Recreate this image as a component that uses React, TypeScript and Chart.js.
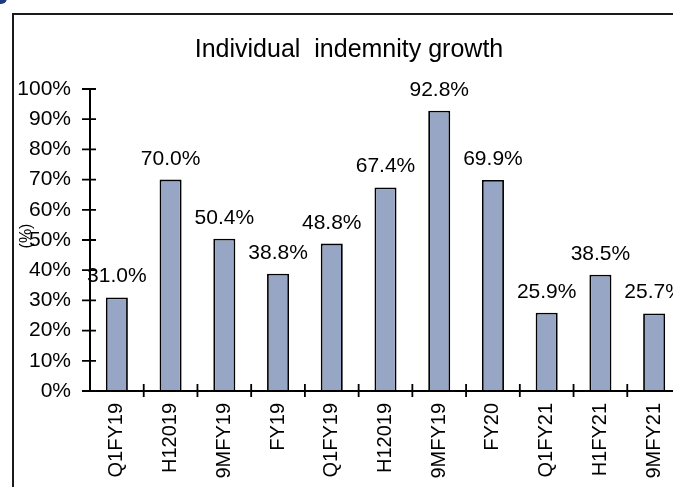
import React, { useEffect, useRef } from "react";
import { Chart, registerables } from "chart.js";

Chart.register(...registerables);

const categories = ["Q1FY19", "H12019", "9MFY19", "FY19", "Q1FY19", "H12019", "9MFY19", "FY20", "Q1FY21", "H1FY21", "9MFY21"];
const growthValues = [31.0, 70.0, 50.4, 38.8, 48.8, 67.4, 92.8, 69.9, 25.9, 38.5, 25.7];
const yTickValues = [0, 10, 20, 30, 40, 50, 60, 70, 80, 90, 100];
const chartTitle = "Individual  indemnity growth";
const yAxisTitle = "(%)";

const FONT = "'Liberation Sans', Arial, Helvetica, sans-serif";

const decorPlugin = {
  id: "decor",
  beforeDraw(chart: any) {
    const ctx = chart.ctx;
    ctx.save();
    ctx.fillStyle = "#ffffff";
    ctx.fillRect(0, 0, chart.width, chart.height);
    ctx.fillStyle = "#1f3b7d";
    ctx.beginPath();
    ctx.arc(1, -2, 6, 0, Math.PI * 2);
    ctx.fill();
    ctx.strokeStyle = "#1a1a1a";
    ctx.lineWidth = 2;
    ctx.beginPath();
    ctx.moveTo(13, chart.height + 5);
    ctx.lineTo(13, 14);
    ctx.lineTo(chart.width + 5, 14);
    ctx.stroke();
    ctx.restore();
  },
  afterDraw(chart: any) {
    const ctx = chart.ctx;
    const xs = chart.scales.x;
    const ys = chart.scales.y;
    const area = chart.chartArea;
    ctx.save();
    ctx.strokeStyle = "#000000";
    ctx.lineWidth = 2;
    ctx.beginPath();
    ctx.moveTo(area.left, ys.getPixelForValue(100));
    ctx.lineTo(area.left, ys.getPixelForValue(0));
    ctx.lineTo(chart.width + 5, ys.getPixelForValue(0));
    ctx.stroke();
    ctx.lineWidth = 1.8;
    ctx.beginPath();
    yTickValues.forEach((v) => {
      const y = ys.getPixelForValue(v);
      ctx.moveTo(area.left - 8, y);
      ctx.lineTo(area.left + 6, y);
    });
    const y0 = ys.getPixelForValue(0);
    for (let i = 1; i <= categories.length; i++) {
      const x = xs.getPixelForValue(i - 0.5);
      ctx.moveTo(x, y0 - 7);
      ctx.lineTo(x, y0 + 6);
    }
    ctx.stroke();
    ctx.fillStyle = "#000000";
    ctx.font = `21px ${FONT}`;
    ctx.textAlign = "center";
    ctx.textBaseline = "alphabetic";
    const meta = chart.getDatasetMeta(0);
    meta.data.forEach((bar: any, i: number) => {
      ctx.fillText(growthValues[i].toFixed(1) + "%", bar.x, bar.y - 15);
    });
    ctx.font = `25px ${FONT}`;
    ctx.fillText(chartTitle, 349, 57);
    ctx.save();
    ctx.translate(27, 236);
    ctx.rotate(-Math.PI / 2);
    ctx.font = `16px ${FONT}`;
    ctx.textBaseline = "middle";
    ctx.fillText(yAxisTitle, 0, 0);
    ctx.restore();
    ctx.restore();
  },
};

export default function App() {
  const canvasRef = useRef<HTMLCanvasElement | null>(null);

  useEffect(() => {
    const canvas = canvasRef.current;
    if (!canvas) return;
    const chart = new Chart(canvas, {
      type: "bar",
      data: {
        labels: categories,
        datasets: [
          {
            data: growthValues,
            backgroundColor: "#97a6c4",
            borderColor: "#000000",
            borderWidth: 1.8,
            barPercentage: 0.41,
            categoryPercentage: 1,
          },
        ],
      },
      options: {
        responsive: false,
        animation: false,
        devicePixelRatio: 1,
        layout: { padding: { top: 89, left: 0, right: 19, bottom: 0 } },
        plugins: {
          legend: { display: false },
          title: { display: false },
          tooltip: { enabled: false },
        },
        scales: {
          x: {
            grid: { display: false, drawTicks: true, tickLength: 8 },
            border: { display: false },
            ticks: {
              autoSkip: false,
              minRotation: 90,
              maxRotation: 90,
              padding: 4,
              color: "#000000",
              font: { family: FONT, size: 20 },
            },
            afterFit(scale: any) {
              scale.height = 96;
            },
          },
          y: {
            min: 0,
            max: 100,
            grid: { display: false, drawTicks: true, tickLength: 8 },
            border: { display: false },
            ticks: {
              stepSize: 10,
              padding: 11,
              color: "#000000",
              font: { family: FONT, size: 21 },
              callback: (v: any) => v + "%",
            },
            afterFit(scale: any) {
              scale.width = 90;
            },
          },
        },
      },
      plugins: [decorPlugin],
    });
    return () => chart.destroy();
  }, []);

  return (
    <div
      style={{
        position: "fixed",
        left: 0,
        top: 0,
        width: 673,
        height: 487,
        overflow: "hidden",
        background: "#ffffff",
      }}
    >
      <canvas ref={canvasRef} width={700} height={487} style={{ display: "block" }} />
    </div>
  );
}
